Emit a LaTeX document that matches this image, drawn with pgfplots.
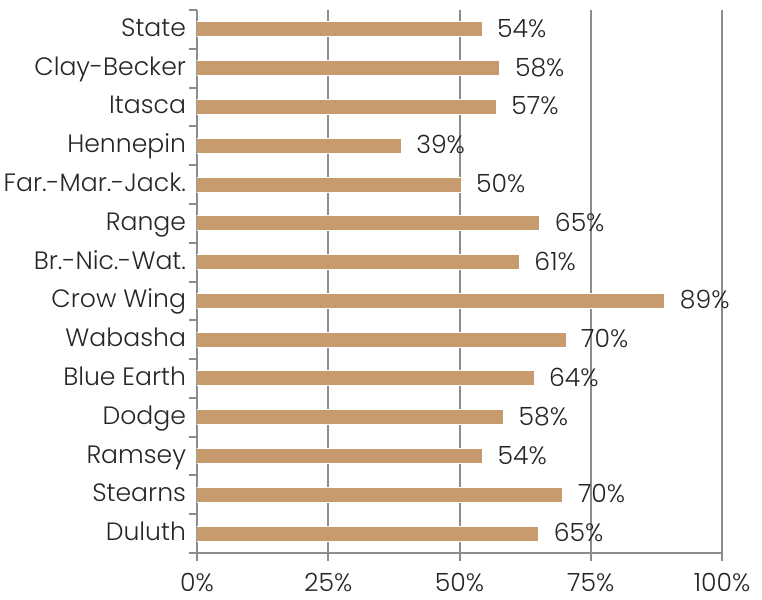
\documentclass[border=0pt]{standalone}
\usepackage{pgfplots}
\pgfplotsset{compat=1.18}
\usepackage{fontspec}
\setmainfont{Poppins}[UprightFont=* Light]
\definecolor{bartan}{RGB}{200,155,110}
\definecolor{axgray}{RGB}{140,140,140}
\begin{document}
\begin{tikzpicture}
\begin{axis}[
    xbar,
    scale only axis,
    width=262.5bp, height=271.5bp,
    xmin=0, xmax=100,
    ymin=-0.5, ymax=13.5,
    y dir=reverse,
    axis lines*=left,
    axis line style={-, draw=axgray, line width=1bp},
    xtick={0,25,50,75,100},
    xticklabel={\pgfmathprintnumber{\tick}\%},
    xmajorgrids=true,
    major grid style={draw=axgray, line width=1bp},
    ytick={0,...,13},
    yticklabels={State,Clay-Becker,Itasca,Hennepin,Far.-Mar.-Jack.,Range,Br.-Nic.-Wat.,Crow Wing,Wabasha,Blue Earth,Dodge,Ramsey,Stearns,Duluth},
    minor ytick={-0.5,0.5,...,13.5},
    major y tick style={draw=none},
    minor y tick style={draw=axgray, line width=1bp},
    x tick style={draw=axgray, line width=1bp},
    tick align=outside,
    major tick length=4bp,
    minor tick length=4bp,
    ticklabel style={font=\fontsize{12.6}{15}\selectfont, text=black!85},
    yticklabel style={anchor=east, text height=0.7em, text depth=0em, xshift=2bp},
    xticklabel style={yshift=-2.5bp},
    /pgf/number format/assume math mode=true,
    bar width=7.5bp,
    nodes near coords={\pgfmathprintnumber[fixed,precision=0]{\pgfplotspointmeta}\%},
    nodes near coords style={font=\fontsize{12.6}{15}\selectfont, text=black!85, xshift=4bp,
        text height=0.7em, text depth=0em, yshift=-0.5bp,
        /pgf/number format/assume math mode=true},
    point meta=x,
]
\addplot[fill=bartan, draw=white, line width=0.5bp] coordinates {
(54.3,0) (57.7,1) (57.0,2) (38.9,3) (50.3,4) (65.3,5) (61.4,6)
(89.1,7) (70.3,8) (64.2,9) (58.4,10) (54.4,11) (69.7,12) (65.1,13)
};
\coordinate (O) at (rel axis cs:0,0);
\end{axis}
\pgfresetboundingbox
\path[use as bounding box] ([shift={(-98.5bp,-23.5bp)}]O) rectangle ++(381bp,300bp);
\end{tikzpicture}
\end{document}
